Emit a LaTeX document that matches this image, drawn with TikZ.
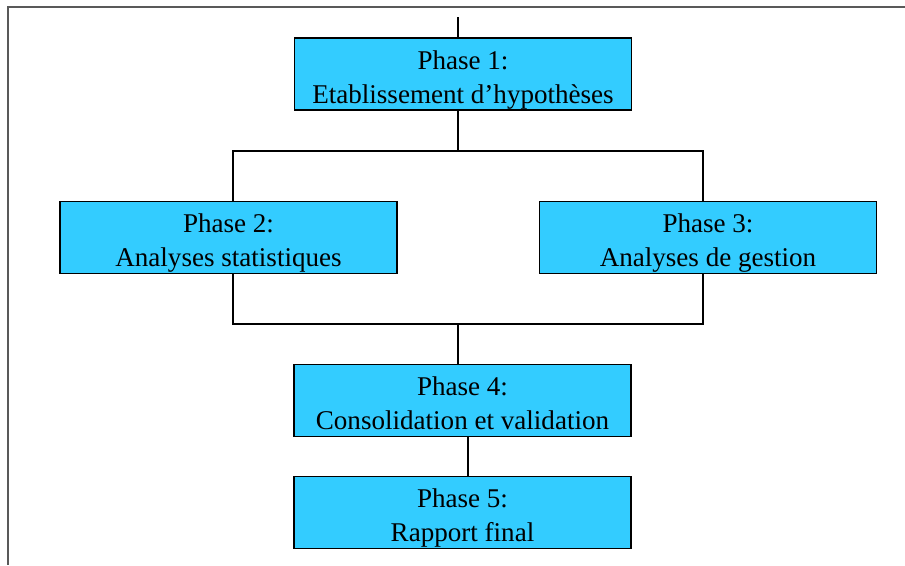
\documentclass[tikz,border=0pt]{standalone}
\usepackage{fontspec}
\setmainfont{Liberation Serif}
\usepackage{xcolor}
\usetikzlibrary{positioning}
\definecolor{phasecyan}{HTML}{33CCFF}

\begin{document}
\begin{tikzpicture}[
    x=0.75pt, y=-0.75pt,
    phase/.style={rectangle, draw=black, line width=0.8pt, fill=phasecyan, minimum width=252.75pt, minimum height=54pt, inner sep=0pt, align=center, text height=43.5pt, text depth=0pt, font=\fontsize{20.3}{25.5}\selectfont},
    link/.style={draw=black, line width=0.8pt},
    frame/.style={draw=black!65, line width=1.2pt}
]
\useasboundingbox (0,0) rectangle (905,565);
% Page frame
\draw[frame] (905,7) -- (8,7) -- (8,565);

% Phases
\node[phase] (p1) at (463,74) {Phase 1:\\Etablissement d’hypothèses};
\node[phase] (p2) at (228.5,237.5) {Phase 2:\\Analyses statistiques};
\node[phase] (p3) at (708,237.5) {Phase 3:\\Analyses de gestion};
\node[phase] (p4) at (462.5,400.5) {Phase 4:\\Consolidation et validation};
\node[phase] (p5) at (462.5,512.5) {Phase 5:\\Rapport final};

% Junctions
\coordinate (top) at (458,17);
\coordinate (fork) at (458,151);
\coordinate (join) at (458,324);
\coordinate (lft) at (233,151);
\coordinate (rgt) at (703,151);
\coordinate (mid) at (468,0);

% Links
\draw[link] (top) -- (top |- p1.north);
\draw[link] (fork |- p1.south) -- (fork);
\draw[link] (lft |- p2.north) -- (lft) -- (rgt) -- (rgt |- p3.north);
\draw[link] (lft |- p2.south) -- (lft |- join) -- (rgt |- join) -- (rgt |- p3.south);
\draw[link] (join) -- (join |- p4.north);
\draw[link] (mid |- p4.south) -- (mid |- p5.north);

\end{tikzpicture}
\end{document}
